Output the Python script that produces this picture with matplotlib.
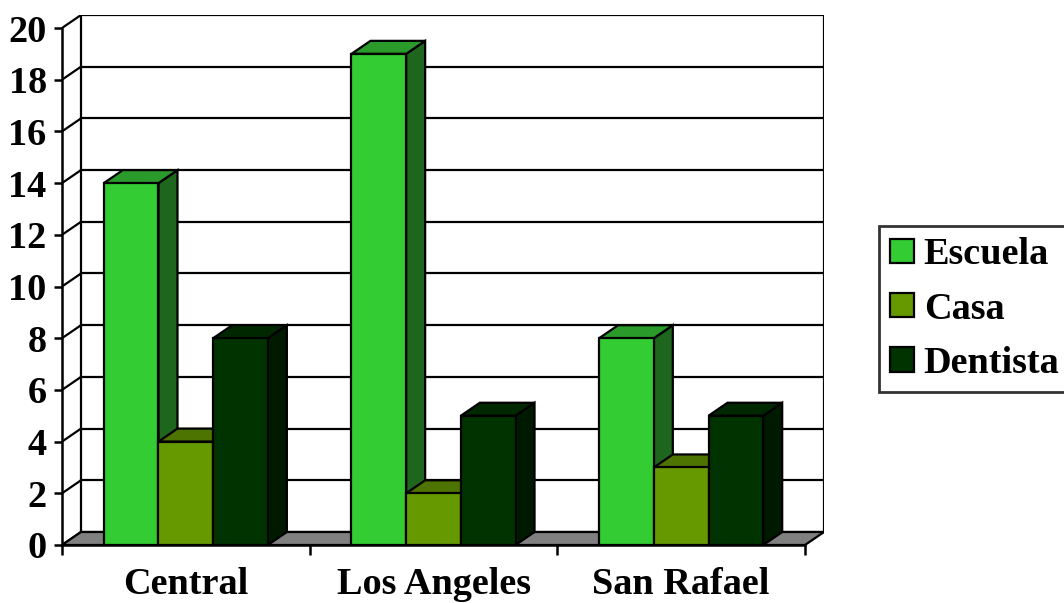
import matplotlib.pyplot as plt
from matplotlib.patches import Polygon, Patch

plt.rcParams['font.family'] = ['Liberation Serif', 'DejaVu Serif']
plt.rcParams['font.weight'] = 'bold'

categories = ['Central', 'Los Angeles', 'San Rafael']
series = ['Escuela', 'Casa', 'Dentista']
escuela = [14, 19, 8]
casa = [4, 2, 3]
dentista = [8, 5, 5]
values = [escuela, casa, dentista]
yticks = list(range(0, 21, 2))

# colours: front, top, side
front_cols = ['#33cc33', '#669900', '#003300']
top_cols = ['#2a9a2a', '#4d7300', '#002800']
side_cols = ['#1e661e', '#3d5c00', '#001a00']

DX = 0.0767   # depth offset in category units
DY = 0.503    # depth offset in value units
W = 0.2208    # bar width
LW = 1.6
FS = 27.5

fig = plt.figure(figsize=(10.64, 6.03), dpi=100)
ax = fig.add_axes([62 / 1064, 58 / 603, 762 / 1064, 530 / 603])
ax.set_xlim(0, 3 + DX)
ax.set_ylim(0, 20 + DY)

# back wall and grid
for v in yticks:
    ax.plot([DX, 3 + DX], [v + DY, v + DY], color='black', lw=LW, zorder=1)
    ax.plot([0, DX], [v, v + DY], color='black', lw=LW, zorder=1)
ax.plot([DX, DX], [DY, 20 + DY], color='black', lw=LW, zorder=1)
ax.plot([3 + DX, 3 + DX], [DY, 20 + DY], color='black', lw=LW, zorder=1)

# floor
ax.add_patch(Polygon([(0, 0), (3, 0), (3 + DX, DY), (DX, DY)], closed=True,
                     facecolor='#808080', edgecolor='black', lw=LW, zorder=2))

off = (1 - 3 * W) / 2
for i in range(len(categories)):
    for j in range(len(series)):
        h = values[j][i]
        x0 = i + off + j * W
        x1 = x0 + W
        ax.add_patch(Polygon([(x1, 0), (x1 + DX, DY), (x1 + DX, h + DY), (x1, h)],
                             closed=True, facecolor=side_cols[j], edgecolor='black', lw=LW, zorder=3))
        ax.add_patch(Polygon([(x0, h), (x1, h), (x1 + DX, h + DY), (x0 + DX, h + DY)],
                             closed=True, facecolor=top_cols[j], edgecolor='black', lw=LW, zorder=3))
        ax.add_patch(Polygon([(x0, 0), (x1, 0), (x1, h), (x0, h)],
                             closed=True, facecolor=front_cols[j], edgecolor='black', lw=LW, zorder=3))

for s in ['top', 'right']:
    ax.spines[s].set_visible(False)
ax.spines['left'].set_bounds(0, 20)
ax.spines['bottom'].set_bounds(0, 3)
for s in ['left', 'bottom']:
    ax.spines[s].set_linewidth(1.8)
    ax.spines[s].set_zorder(5)

ax.set_yticks(yticks)
ax.set_yticklabels([str(v) for v in yticks], fontsize=FS, fontweight='bold')
ax.tick_params(axis='y', length=6, width=1.8, pad=5)

ax.set_xticks([0, 1, 2, 3])
ax.set_xticklabels([])
ax.tick_params(axis='x', which='major', length=7, width=1.8)
ax.set_xticks([0.5, 1.5, 2.5], minor=True)
ax.set_xticklabels(categories, minor=True, fontsize=FS, fontweight='bold')
ax.tick_params(axis='x', which='minor', length=0, pad=16)

handles = [Patch(facecolor=c, edgecolor='black', lw=1.6) for c in front_cols]
leg = fig.legend(handles, series, loc='upper left', bbox_to_anchor=(879 / 1064, 1 - 226 / 603),
                 prop={'family': 'Liberation Serif', 'weight': 'bold', 'size': FS},
                 handlelength=0.62, handleheight=0.62, handletextpad=0.25,
                 labelspacing=0.5, borderpad=0.3, borderaxespad=0, fancybox=False,
                 frameon=True)
leg.get_frame().set_edgecolor('black')
leg.get_frame().set_linewidth(2)

fig.savefig('out.png', dpi=100)
